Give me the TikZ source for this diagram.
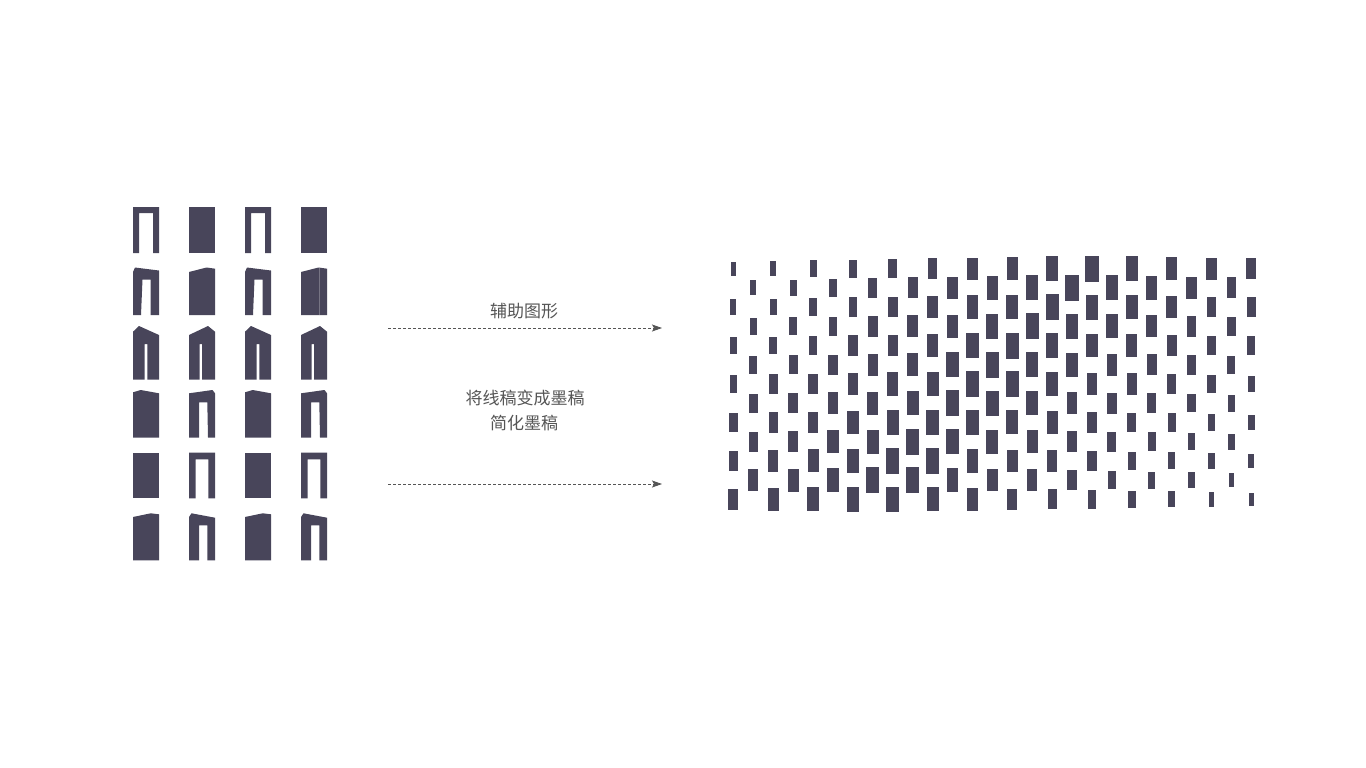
\documentclass[tikz,border=0pt]{standalone}
\usepackage{fontspec}
\usepackage{tikz}
\usetikzlibrary{arrows.meta}
\newfontfamily\cjk{Noto Sans CJK SC}
\definecolor{inkgray}{HTML}{48455A}
\definecolor{textgray}{HTML}{555555}

\begin{document}
\begin{tikzpicture}[x=1pt,y=-1pt,
        block/.style={fill=inkgray},
        seam/.style={draw=inkgray!75!white,line width=0.5pt},
        caption/.style={text=textgray,inner sep=0pt,font=\cjk\fontsize{17}{20}\selectfont},
        flow/.style={draw=textgray,line width=0.8pt,dash pattern=on 3pt off 2pt,
            -{Stealth[length=10pt,width=7pt,inset=2pt]}}]
    \useasboundingbox (0,0) rectangle (1366,768);
    % line drawings, two pairs per row
    \foreach \c in {0,112}{
        \begin{scope}[xshift=\c pt]
        \fill[block] (133,253) -- (133,207) -- (159,207) -- (159,253) -- (153,253) -- (153,213) -- (139,213) -- (139,253) -- cycle;
        \fill[block] (189,207) rectangle (215,253);
        \fill[block] (133,315) -- (133,272) -- (135,267.5) -- (159,270.5) -- (159,315) -- (150.5,315) -- (150.5,279.5) -- (142.5,279.5) -- (141,315) -- cycle;
        \fill[block] (189,315) -- (189,272) -- (206.5,267.5) -- (215,268.7) -- (215,315) -- cycle;
        \fill[block] (133,379.5) -- (133,331.7) -- (139,326) -- (159,335) -- (159,379.5) -- (147.3,379.5) -- (147.3,344) -- (144.7,344) -- (144.7,379.5) -- cycle;
        \fill[block] (189,379.5) -- (189,335) -- (208,326) -- (215,331.7) -- (215,379.5) -- (202,379.5) -- (202,344) -- (199.7,344) -- (199.7,379.5) -- cycle;
        \fill[block] (133,437.5) -- (133,392.3) -- (140.7,390) -- (159,393.3) -- (159,437.5) -- cycle;
        \fill[block] (189,437.5) -- (189,393.3) -- (212.5,390) -- (215,393.3) -- (215,437.5) -- (208,437.5) -- (207.3,402.3) -- (199,402.3) -- (199,437.5) -- cycle;
        \fill[block] (133,452.7) rectangle (159,498.3);
        \fill[block] (189,498.3) -- (189,452.7) -- (215,452.7) -- (215,498.3) -- (208.3,498.3) -- (208.3,459.3) -- (195.7,459.3) -- (195.7,498.3) -- cycle;
        \fill[block] (133,560.3) -- (133,517) -- (150.7,513.3) -- (159,514.3) -- (159,560.3) -- cycle;
        \fill[block] (189,560.3) -- (189,517) -- (191.5,513.3) -- (215,517.7) -- (215,560.3) -- (207.3,560.3) -- (207.3,525.3) -- (199,525.3) -- (199,560.3) -- cycle;
        \end{scope}
    }
    \draw[seam] (319,268) -- (319,315);
    % captions and arrows
    \node[caption] (aux) at (524,311) {辅助图形};
    \node[caption] (step1) at (525,398.5) {将线稿变成墨稿};
    \node[caption] (step2) at (524,423.5) {简化墨稿};
    \coordinate (from1) at (388,328);
    \coordinate (to1) at (662,328);
    \coordinate (from2) at (388,484);
    \coordinate (to2) at (662,484);
    \draw[flow] (from1) -- (to1);
    \draw[flow] (from2) -- (to2);
    % ink pattern
    \foreach \i in {0,...,26}{
        \foreach \r in {0,...,6}{
            \pgfmathtruncatemacro\j{2*\r+mod(\i,2)}
            \ifnum\j<13
                \pgfmathsetmacro\px{733.4+19.92*\i}
                \pgfmathsetmacro\py{268.6+19.23*\j}
                \pgfmathsetmacro\dd{abs(0.727*(\px-873)+0.686*(\py-499))/265}
                \pgfmathsetmacro\hw{(13.2-8*\dd)/2}
                \pgfmathsetmacro\hh{(26.2-12.5*\dd)/2}
                \fill[block] (\px-\hw,\py-\hh) rectangle (\px+\hw,\py+\hh);
            \fi
        }
    }
\end{tikzpicture}
\end{document}
